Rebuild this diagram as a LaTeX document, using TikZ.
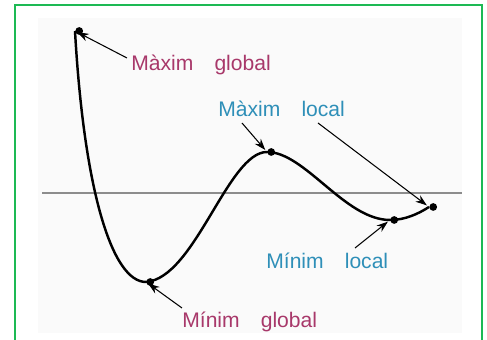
\documentclass[tikz,border=0pt]{standalone}
\usepackage{fontspec}
\setmainfont{Liberation Sans}
\usepackage{xcolor}
\usetikzlibrary{arrows.meta}

\definecolor{globalred}{HTML}{A8386A}
\definecolor{localblue}{HTML}{2E8FB8}
\definecolor{framegreen}{HTML}{1DB954}

\begin{document}
\begin{tikzpicture}[
  x=0.02cm, y=0.02cm,
  every node/.style={font=\fontsize{12}{14}\selectfont, inner sep=0pt, anchor=base west},
  dot/.style={fill=black, circle, inner sep=0pt, minimum size=4.4pt},
  curve/.style={line width=1.4pt},
  pointer/.style={-{Stealth[length=6.5pt,width=4.5pt]}, line width=0.6pt, shorten >=1.5pt},
  maxmin/.style={text=globalred},
  locallab/.style={text=localblue}
]
\useasboundingbox (0,0) rectangle (487,340);
\fill[black!2] (38,7) rectangle (462,322);
\draw[framegreen, line width=1.2pt] (15,-5) -- (15,335) -- (482,335) -- (482,-5);
\draw[black!45, line width=0.6pt] (42,147) -- (462,147);

\coordinate (gmax) at (75,309);
\coordinate (gmin) at (146,58);
\coordinate (lmax) at (267,188);
\coordinate (lmin) at (390,120);
\coordinate (rend) at (429,133);

\draw[curve] (gmax) .. controls (84,150) and (112,58) .. (gmin)
  .. controls (195,62) and (228,188) .. (lmax)
  .. controls (305,188) and (345,120) .. (lmin)
  .. controls (405,120) and (418,126) .. (rend);

\node[dot] at (gmax) {};
\node[dot] at (gmin) {};
\node[dot] at (lmax) {};
\node[dot] at (lmin) {};
\node[dot] at (rend) {};

\node[maxmin] (gmaxlab) at (131,269) {Màxim\quad global};
\node[locallab] (lmaxlab) at (218,223) {Màxim\quad local};
\node[locallab] (lminlab) at (266,71) {Mínim\quad local};
\node[maxmin] (gminlab) at (182,12) {Mínim\quad global};

\coordinate (gmaxtail) at (127,282);
\coordinate (lmaxtail) at (242,217);
\coordinate (rendtail) at (318,217);
\coordinate (lmintail) at (355,92);
\coordinate (gmintail) at (182,32);

\draw[pointer] (gmaxtail) -- (gmax);
\draw[pointer] (lmaxtail) -- (lmax);
\draw[pointer] (rendtail) -- (rend);
\draw[pointer] (lmintail) -- (lmin);
\draw[pointer] (gmintail) -- (gmin);
\end{tikzpicture}
\end{document}
